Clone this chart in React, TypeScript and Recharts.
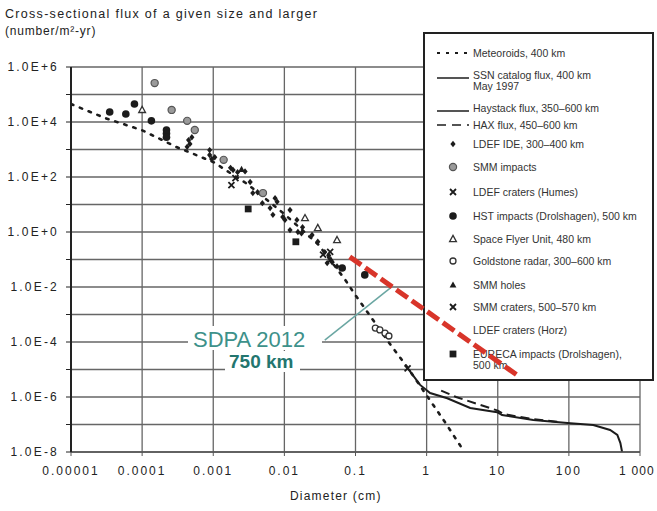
import React from 'react';
import {
  ComposedChart,
  Line,
  Scatter,
  XAxis,
  YAxis,
  CartesianGrid,
  ReferenceLine,
  Customized,
} from 'recharts';

// axes (log-log)
const xTicks = [1e-5, 1e-4, 1e-3, 0.01, 0.1, 1, 10, 100, 1000];
const xTickLabels = ['0.00001', '0.0001', '0.001', '0.01', '0.1', '1', '10', '100', '1 000'];
const yTicks = [1e6, 1e5, 1e4, 1e3, 1e2, 1e1, 1, 1e-1, 1e-2, 1e-3, 1e-4, 1e-5, 1e-6, 1e-7, 1e-8];
const yTickLabels = [
  '1.0E+6', '', '1.0E+4', '', '1.0E+2', '', '1.0E+0', '',
  '1.0E-2', '', '1.0E-4', '', '1.0E-6', '', '1.0E-8',
];

// meteoroid model, 400 km (dotted)
const meteoroidDiam = [1e-5, 3e-5, 1e-4, 3e-4, 1e-3, 3e-3, 0.01, 0.03, 0.07, 0.1, 0.16, 0.3, 0.55, 1.1, 1.8, 3.4];
const meteoroidFlux = [4.5e4, 1.4e4, 5e3, 1.25e3, 350, 56, 4.5, 0.35, 0.02, 5e-3, 9e-4, 9e-5, 1.1e-5, 8e-7, 1.25e-7, 1e-8];

// SSN catalog / Haystack debris flux (solid)
const debrisDiam = [0.53, 0.81, 1.12, 1.95, 4.1, 9.8, 11.5, 31.6, 105, 220, 380, 480, 530, 560];
const debrisFlux = [1.2e-5, 2.75e-6, 1.4e-6, 9e-7, 4e-7, 2.8e-7, 2.2e-7, 1.45e-7, 1.1e-7, 9.5e-8, 6.3e-8, 4.2e-8, 2.1e-8, 1e-8];

// HAX flux (dashed)
const haxDiam = [1.6, 2.6, 10, 12, 30, 70];
const haxFlux = [1.7e-6, 1.0e-6, 3.2e-7, 2.4e-7, 1.6e-7, 1.25e-7];

// SDPA 2012, 750 km (red dashed)
const sdpaDiam = [0.083, 19.5];
const sdpaFlux = [0.125, 5.8e-6];

// measurements
const ldefIdeDiam = [4.5e-4, 4.7e-4, 4.3e-4, 5e-4, 8.9e-4, 8.9e-4, 9.5e-4, 1.05e-3, 1.75e-3, 1.9e-3, 2.2e-3, 2.8e-3, 3.3e-3, 3.6e-3, 4.2e-3, 7.4e-3, 7.9e-3, 4.9e-3, 6.3e-3, 6.9e-3, 9.5e-3, 0.0102, 0.012, 0.012, 0.015, 0.018, 0.0155, 0.0174, 0.0245, 0.0295, 0.037, 0.042, 0.04, 0.047, 0.055];
const ldefIdeFlux = [2.2e3, 1.6e3, 1.25e3, 2.8e3, 950, 630, 450, 520, 215, 180, 150, 160, 66, 26, 28, 17, 12.6, 11.2, 7.4, 4.2, 3.5, 2.75, 6.3, 1.17, 2.75, 1.5, 1.0, 0.89, 0.78, 0.44, 0.186, 0.14, 0.074, 0.079, 0.056];
const smmImpactDiam = [1.5e-4, 2.6e-4, 4.3e-4, 5.5e-4, 1.4e-3, 5e-3];
const smmImpactFlux = [2.6e5, 2.75e4, 1.1e4, 5.1e3, 420, 26];
const ldefHumesDiam = [2.05e-3, 1.8e-3, 0.035];
const ldefHumesFlux = [91, 51, 0.15];
const hstDiam = [3.5e-5, 5.9e-5, 7.8e-5, 1.35e-4, 2.2e-4, 2.2e-4, 2.2e-4, 0.065, 0.135];
const hstFlux = [2.3e4, 1.95e4, 4.5e4, 1.1e4, 5.1e3, 3.8e3, 2.8e3, 0.049, 0.0275];
const sfuDiam = [1e-4, 0.0195, 0.0295, 0.055];
const sfuFlux = [2.75e4, 3.2, 1.4, 0.51];
const goldstoneDiam = [0.19, 0.22, 0.26, 0.295];
const goldstoneFlux = [3.2e-4, 2.75e-4, 2.1e-4, 1.65e-4];
const smmHoleDiam = [2.5e-3, 0.045];
const smmHoleFlux = [190, 0.1];
const smmCraterDiam = [0.044, 0.54];
const smmCraterFlux = [0.19, 1.1e-5];
const eurecaDiam = [3.1e-3, 0.0145];
const eurecaFlux = [6.9, 0.44];

const pairs = (xs: number[], ys: number[]) => xs.map((x, i) => ({ x, y: ys[i] }));

const INK = '#1c1c1c';
const FONT = '"Liberation Sans", Arial, sans-serif';

type P = { cx?: number; cy?: number };
const DiamondMark = ({ cx = 0, cy = 0 }: P) => (
  <path d={`M${cx},${cy - 3.2}L${cx + 2.6},${cy}L${cx},${cy + 3.2}L${cx - 2.6},${cy}Z`} fill={INK} />
);
const GrayCircle = ({ cx = 0, cy = 0 }: P) => (
  <circle cx={cx} cy={cy} r={3.6} fill="#9a9a9a" stroke="#555" strokeWidth={1.2} />
);
const CrossMark = ({ cx = 0, cy = 0 }: P) => (
  <path d={`M${cx - 3},${cy - 3}L${cx + 3},${cy + 3}M${cx - 3},${cy + 3}L${cx + 3},${cy - 3}`} stroke={INK} strokeWidth={1.8} />
);
const DotMark = ({ cx = 0, cy = 0 }: P) => <circle cx={cx} cy={cy} r={3.8} fill={INK} />;
const OpenTriangle = ({ cx = 0, cy = 0 }: P) => (
  <path d={`M${cx},${cy - 3.6}L${cx + 3.4},${cy + 2.6}L${cx - 3.4},${cy + 2.6}Z`} fill="#fff" stroke="#333" strokeWidth={1.3} />
);
const OpenCircle = ({ cx = 0, cy = 0 }: P) => (
  <circle cx={cx} cy={cy} r={3} fill="#fff" stroke="#333" strokeWidth={1.3} />
);
const FilledTriangle = ({ cx = 0, cy = 0 }: P) => (
  <path d={`M${cx},${cy - 3.6}L${cx + 3.4},${cy + 2.6}L${cx - 3.4},${cy + 2.6}Z`} fill={INK} />
);
const SquareMark = ({ cx = 0, cy = 0 }: P) => (
  <rect x={cx - 3.4} y={cy - 3.4} width={6.8} height={6.8} fill={INK} />
);

const legendItems: { label: string[]; y: number; kind: string }[] = [
  { label: ['Meteoroids, 400 km'], y: 53, kind: 'dot' },
  { label: ['SSN catalog flux, 400 km', 'May 1997'], y: 75, kind: 'solid' },
  { label: ['Haystack flux, 350–600 km'], y: 108, kind: 'solid' },
  { label: ['HAX flux, 450–600 km'], y: 125, kind: 'dash' },
  { label: ['LDEF IDE, 300–400 km'], y: 144, kind: 'diamond' },
  { label: ['SMM impacts'], y: 167, kind: 'gray' },
  { label: ['LDEF craters (Humes)'], y: 192, kind: 'cross' },
  { label: ['HST impacts (Drolshagen), 500 km'], y: 216, kind: 'disc' },
  { label: ['Space Flyer Unit, 480 km'], y: 239, kind: 'otri' },
  { label: ['Goldstone radar, 300–600 km'], y: 261, kind: 'ocirc' },
  { label: ['SMM holes'], y: 285, kind: 'ftri' },
  { label: ['SMM craters, 500–570 km'], y: 307, kind: 'cross' },
  { label: ['LDEF craters (Horz)'], y: 330, kind: 'none' },
  { label: ['EURECA impacts (Drolshagen),', '500 km'], y: 354, kind: 'square' },
];

function legendMark(kind: string, y: number) {
  const cx = 453;
  switch (kind) {
    case 'dot':
      return <line x1={437} x2={469} y1={y} y2={y} stroke={INK} strokeWidth={2.2} strokeDasharray="3 6" />;
    case 'solid':
      return <line x1={437} x2={469} y1={y + 3} y2={y + 3} stroke={INK} strokeWidth={1.5} />;
    case 'dash':
      return <line x1={437} x2={469} y1={y} y2={y} stroke={INK} strokeWidth={1.5} strokeDasharray="9 6" />;
    case 'diamond':
      return <DiamondMark cx={cx} cy={y} />;
    case 'gray':
      return <GrayCircle cx={cx} cy={y} />;
    case 'cross':
      return <CrossMark cx={cx} cy={y} />;
    case 'disc':
      return <DotMark cx={cx} cy={y} />;
    case 'otri':
      return <OpenTriangle cx={cx} cy={y} />;
    case 'ocirc':
      return <OpenCircle cx={cx} cy={y} />;
    case 'ftri':
      return <FilledTriangle cx={cx} cy={y} />;
    case 'square':
      return <SquareMark cx={cx} cy={y} />;
    default:
      return null;
  }
}

function Overlay() {
  return (
    <g fontFamily={FONT}>
      {/* annotation boxes */}
      <rect x={188} y={326} width={134} height={24} fill="#fff" />
      <rect x={225} y={351} width={75} height={21} fill="#fff" />
      <text x={193} y={347} fontSize={22} fill="#3d918a">SDPA 2012</text>
      <text x={229} y={368} fontSize={19} fontWeight="bold" fill="#23766f">750 km</text>
      {/* legend */}
      <rect x={424} y={33} width={229} height={347} fill="#fff" stroke="#222" strokeWidth={2} />
      {legendItems.map((it) => (
        <g key={it.label[0]}>
          {legendMark(it.kind, it.y)}
          {it.label.map((t, j) => (
            <text key={t} x={473} y={it.y + 4 + j * 11} fontSize={10.5} fill="#333">
              {t}
            </text>
          ))}
        </g>
      ))}
    </g>
  );
}

const YTick = (props: any) => {
  const { x, y, payload } = props;
  const idx = yTicks.findIndex((t) => Math.abs(Math.log10(t) - Math.log10(payload.value)) < 0.01);
  const label = idx >= 0 ? yTickLabels[idx] : '';
  return (
    <text x={x} y={y + 4} textAnchor="end" fontSize={12} fill="#222" fontFamily={FONT} style={{ letterSpacing: 2.2 }}>
      {label}
    </text>
  );
};

const XTick = (props: any) => {
  const { x, y, payload } = props;
  const idx = xTicks.findIndex((t) => Math.abs(Math.log10(t) - Math.log10(payload.value)) < 0.01);
  const label = idx >= 0 ? xTickLabels[idx] : '';
  // last label would run past the right edge, so right-align it
  const last = idx === xTicks.length - 1;
  return (
    <text
      x={last ? x + 15 : x}
      y={y + 17}
      textAnchor={last ? 'end' : 'middle'}
      fontSize={12}
      fill="#222"
      fontFamily={FONT}
      style={{ letterSpacing: last ? 1.2 : 2 }}
    >
      {label}
    </text>
  );
};

export default function App() {
  return (
    <div style={{ position: 'absolute', left: 0, top: 0, width: 657, height: 511, background: '#fff', overflow: 'hidden', fontFamily: FONT }}>
      <div style={{ position: 'absolute', left: 5, top: 7, fontSize: 12.5, letterSpacing: 1.3, color: '#222', whiteSpace: 'nowrap' }}>
        Cross-sectional flux of a given size and larger
      </div>
      <div style={{ position: 'absolute', left: 5, top: 24, fontSize: 12, letterSpacing: 0.8, color: '#222', whiteSpace: 'nowrap' }}>
        (number/m²-yr)
      </div>
      <ComposedChart width={657} height={511} margin={{ top: 67, right: 17, left: 0, bottom: 29 }}>
        <CartesianGrid stroke="#666" strokeWidth={1.3} />
        <XAxis
          dataKey="x"
          type="number"
          scale="log"
          domain={[1e-5, 1000]}
          ticks={xTicks}
          allowDataOverflow
          height={30}
          axisLine={{ stroke: '#555', strokeWidth: 1.5 }}
          tickLine={{ stroke: '#555' }}
          tickSize={4}
          tick={<XTick />}
        />
        <YAxis
          dataKey="y"
          type="number"
          scale="log"
          domain={[1e-8, 1e6]}
          ticks={yTicks}
          allowDataOverflow
          width={71}
          axisLine={{ stroke: '#222', strokeWidth: 2 }}
          tickLine={{ stroke: '#222' }}
          tickSize={5}
          tickMargin={7}
          tick={<YTick />}
        />
        <Customized component={<Overlay />} />
        <Line data={pairs(meteoroidDiam, meteoroidFlux)} dataKey="y" stroke={INK} strokeWidth={2.6} strokeDasharray="2.5 7" strokeLinecap="round" dot={false} isAnimationActive={false} />
        <Line data={pairs(debrisDiam, debrisFlux)} dataKey="y" stroke={INK} strokeWidth={2} dot={false} isAnimationActive={false} />
        <Line data={pairs(haxDiam, haxFlux)} dataKey="y" stroke={INK} strokeWidth={2} strokeDasharray="9 5" dot={false} isAnimationActive={false} />
        <Scatter data={pairs(ldefIdeDiam, ldefIdeFlux)} shape={(p: any) => <DiamondMark cx={p.cx} cy={p.cy} />} isAnimationActive={false} />
        <Scatter data={pairs(smmImpactDiam, smmImpactFlux)} shape={(p: any) => <GrayCircle cx={p.cx} cy={p.cy} />} isAnimationActive={false} />
        <Scatter data={pairs(ldefHumesDiam, ldefHumesFlux)} shape={(p: any) => <CrossMark cx={p.cx} cy={p.cy} />} isAnimationActive={false} />
        <Scatter data={pairs(hstDiam, hstFlux)} shape={(p: any) => <DotMark cx={p.cx} cy={p.cy} />} isAnimationActive={false} />
        <Scatter data={pairs(sfuDiam, sfuFlux)} shape={(p: any) => <OpenTriangle cx={p.cx} cy={p.cy} />} isAnimationActive={false} />
        <Scatter data={pairs(goldstoneDiam, goldstoneFlux)} shape={(p: any) => <OpenCircle cx={p.cx} cy={p.cy} />} isAnimationActive={false} />
        <Scatter data={pairs(smmHoleDiam, smmHoleFlux)} shape={(p: any) => <FilledTriangle cx={p.cx} cy={p.cy} />} isAnimationActive={false} />
        <Scatter data={pairs(smmCraterDiam, smmCraterFlux)} shape={(p: any) => <CrossMark cx={p.cx} cy={p.cy} />} isAnimationActive={false} />
        <Scatter data={pairs(eurecaDiam, eurecaFlux)} shape={(p: any) => <SquareMark cx={p.cx} cy={p.cy} />} isAnimationActive={false} />
        <ReferenceLine
          segment={[{ x: 0.037, y: 1.17e-4 }, { x: 0.307, y: 9.1e-3 }]}
          stroke="#6aa6a2"
          strokeWidth={1.5}
        />
        <Line data={pairs(sdpaDiam, sdpaFlux)} dataKey="y" stroke="#d8352a" strokeWidth={5} strokeDasharray="14 5" dot={false} isAnimationActive={false} />
      </ComposedChart>
      <div style={{ position: 'absolute', left: 290, top: 489, fontSize: 12, letterSpacing: 1.2, color: '#222', whiteSpace: 'nowrap' }}>
        Diameter  (cm)
      </div>
    </div>
  );
}
